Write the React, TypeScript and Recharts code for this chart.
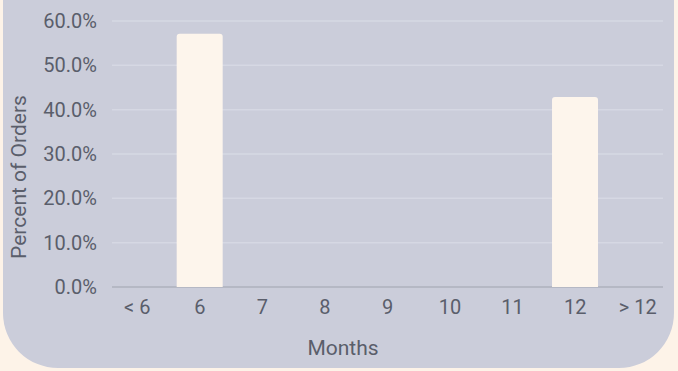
import { BarChart, Bar, XAxis, YAxis, CartesianGrid } from 'recharts';

const months = ['< 6', '6', '7', '8', '9', '10', '11', '12', '> 12'];
const percentOfOrders = [0, 57.14, 0, 0, 0, 0, 0, 42.86, 0];
const yTicks = [0, 10, 20, 30, 40, 50, 60];

const data = months.map((m, i) => ({ month: m, pct: percentOfOrders[i] }));

const textColor = '#5a5e6b';
const font = 'Roboto, sans-serif';

export default function App() {
	return (
		<div style={{ position: 'fixed', left: 0, top: 0, width: 678, height: 371, background: '#fdf3e8', overflow: 'hidden', fontFamily: font }}>
			<div style={{ position: 'absolute', left: 3, top: -60, width: 671, height: 428, background: '#cbcdda', borderRadius: '0 0 55px 55px' }} />
			<div style={{ position: 'absolute', left: 0, top: 0 }}>
				<BarChart width={678} height={371} data={data} margin={{ top: 21, right: 9, bottom: 0, left: 0 }} barCategoryGap="13%">
					<CartesianGrid vertical={false} x={112} width={551} stroke="#d6d8e3" strokeWidth={1.5} />
					<CartesianGrid vertical={false} x={112} width={551} horizontalValues={[0]} stroke="#9799a8" strokeWidth={1.2} />
					<XAxis dataKey="month" height={84} axisLine={false} tickLine={false} tickSize={0} tickMargin={13} interval={0}
						tick={{ fill: textColor, fontSize: 20, fontFamily: font }} />
					<YAxis width={106} domain={[0, 60]} ticks={yTicks} axisLine={false} tickLine={false} tickSize={0} tickMargin={9}
						tickFormatter={(v: number) => v.toFixed(1) + '%'}
						tick={{ fill: textColor, fontSize: 20, fontFamily: font }} />
					<Bar dataKey="pct" fill="#fdf5ec" radius={[3, 3, 0, 0]} isAnimationActive={false} />
				</BarChart>
			</div>
			<div style={{ position: 'absolute', left: 343, top: 348, transform: 'translate(-50%, -50%)', color: textColor, fontSize: 21, whiteSpace: 'nowrap' }}>Months</div>
			<div style={{ position: 'absolute', left: 19, top: 177, transform: 'translate(-50%, -50%) rotate(-90deg)', color: textColor, fontSize: 21, whiteSpace: 'nowrap' }}>Percent of Orders</div>
		</div>
	);
}
